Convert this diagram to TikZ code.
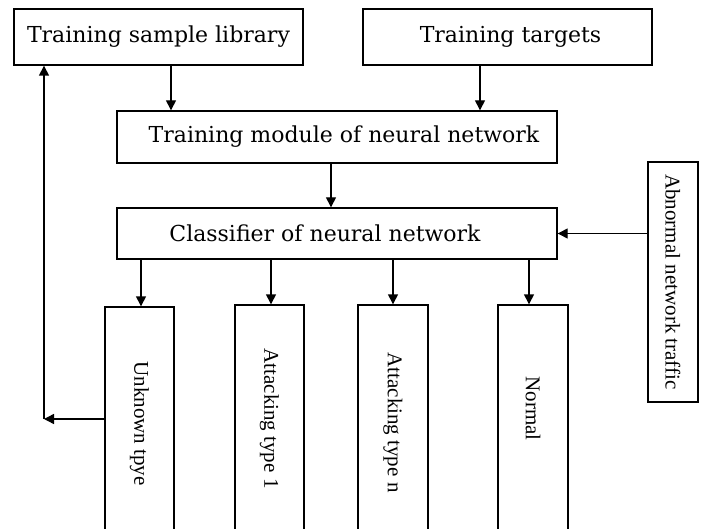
\documentclass[tikz,border=0pt]{standalone}
\usepackage{fontspec}
\setmainfont{Liberation Serif}
\newfontfamily\hfont{DejaVu Serif}
\usetikzlibrary{arrows.meta}
\tikzset{
  box/.style={draw, line width=1.4pt, inner sep=0pt, fill=white},
  hbox/.style={box, font=\hfont\fontsize{22}{26}\selectfont},
  vbox/.style={box, font=\fontsize{21}{25}\selectfont},
  arr/.style={line width=1.4pt, -{Triangle[length=10pt,width=10pt]}}
}
\begin{document}
\begin{tikzpicture}[x=1pt,y=-1pt]
\useasboundingbox (0,0) rectangle (703,529);
\clip (0,0) rectangle (703,529);
\node[hbox, minimum width=289pt, minimum height=56pt] (lib) at (158.5,37) {Training sample library};
\node[hbox, minimum width=289pt, minimum height=56pt] (tgt) at (507.5,37) {\hspace*{6pt}Training targets};
\node[hbox, minimum width=440pt, minimum height=52pt] (tm) at (337,137) {\hspace*{14pt}Training module of neural network};
\node[hbox, minimum width=440pt, minimum height=51pt] (cls) at (337,233.5) {Classifier of neural network\hspace*{24pt}};
\node[vbox, minimum width=50pt, minimum height=240pt] (abn) at (673,282) {\rotatebox{-90}{Abnormal network traffic}};
\node[vbox, minimum width=69pt, minimum height=233pt] (unk) at (139.5,423.5) {\rotatebox{-90}{Unknown tpye}};
\node[vbox, minimum width=69pt, minimum height=235pt] (at1) at (269.5,422.5) {\rotatebox{-90}{Attacking type 1\hspace*{8pt}}};
\node[vbox, minimum width=70pt, minimum height=235pt] (atn) at (393,422.5) {\rotatebox{-90}{Attacking type n}};
\node[vbox, minimum width=70pt, minimum height=235pt] (nor) at (533,422.5) {\rotatebox{-90}{Normal\hspace*{28pt}}};
\coordinate (fb) at (44,419);
\draw[arr] ([xshift=12.5pt]lib.south) -- ([xshift=12.5pt]lib.south |- tm.north);
\draw[arr] ([xshift=-27.5pt]tgt.south) -- ([xshift=-27.5pt]tgt.south |- tm.north);
\draw[arr] ([xshift=-6pt]tm.south) -- ([xshift=-6pt]tm.south |- cls.north);
\draw[arr] (abn.west |- cls.east) -- (cls.east);
\draw[arr] ([xshift=1.5pt]cls.south -| unk.north) -- ([xshift=1.5pt]unk.north);
\draw[arr] ([xshift=1.5pt]cls.south -| at1.north) -- ([xshift=1.5pt]at1.north);
\draw[arr] (cls.south -| atn.north) -- (atn.north);
\draw[arr] ([xshift=-4pt]cls.south -| nor.north) -- ([xshift=-4pt]nor.north);
\draw[arr] (unk.west |- fb) -- (fb);
\draw[arr] (fb) -- (fb |- lib.south);
\end{tikzpicture}
\end{document}
